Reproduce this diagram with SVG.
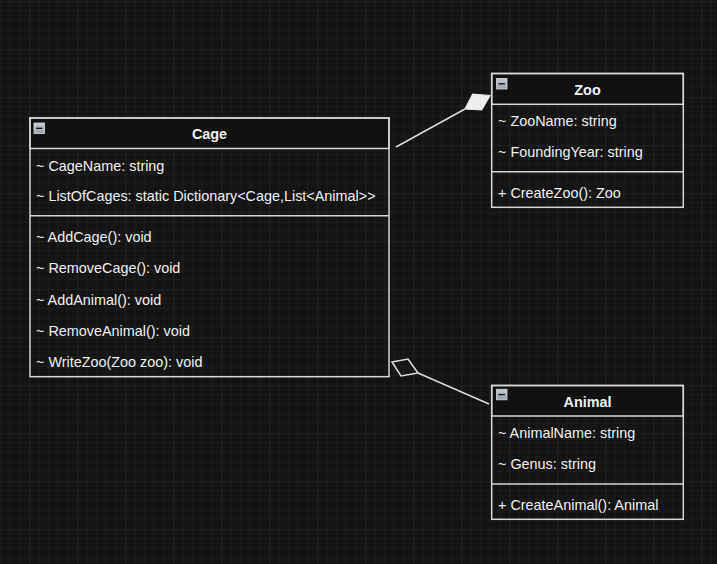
<svg xmlns="http://www.w3.org/2000/svg" width="717" height="564" viewBox="0 0 717 564">
<defs>
<pattern id="grid" width="48" height="48" patternUnits="userSpaceOnUse" x="29.3" y="1.3">
<path d="M9.6 0V48M19.2 0V48M28.8 0V48M38.4 0V48M0 9.6H48M0 19.2H48M0 28.8H48M0 38.4H48" stroke="#1d1d1d" stroke-width="1" fill="none"/>
<path d="M0 0V48M0 0H48" stroke="#2c2c2c" stroke-width="1.2" fill="none"/>
</pattern>
<linearGradient id="ic" x1="0" y1="0" x2="0" y2="1">
<stop offset="0" stop-color="#c4cad3"/>
<stop offset="1" stop-color="#9aa2ad"/>
</linearGradient>
<g id="icon">
<rect x="0" y="0" width="10.5" height="10.5" fill="url(#ic)" stroke="#d8dce2" stroke-width="0.8"/>
<rect x="2" y="4.6" width="6.5" height="1.4" fill="#1a1a1a"/>
</g>
</defs>
<style>
.box{fill:none;stroke:#d6d6d6;stroke-width:1.5}
.hdr{fill:#111111;stroke:#d6d6d6;stroke-width:1.5}
.div{stroke:#d6d6d6;stroke-width:1.5}
.t{font-family:"Liberation Sans",Arial,sans-serif;font-size:14.4px;fill:#f0f0f0}
.ttl{font-family:"Liberation Sans",Arial,sans-serif;font-size:14.4px;font-weight:bold;fill:#f0f0f0;text-anchor:middle}
.con{stroke:#dcdcdc;stroke-width:1.5;fill:none}
</style>
<rect width="717" height="564" fill="#141414"/>
<rect width="717" height="564" fill="url(#grid)"/>

<g id="connectors">
<line class="con" x1="396" y1="147" x2="465" y2="109"/>
<polygon points="465,109 472.7,94.2 490,95.5 481.7,110" fill="#eeeeee" stroke="#e6e6e6" stroke-width="1.2"/>
<line class="con" x1="418" y1="373" x2="489" y2="404"/>
<polygon points="392,362 408,359 418,373 401,376" class="con"/>
</g>

<g id="cage">
<rect class="hdr" x="30" y="118" width="359" height="30.5"/>
<rect class="box" x="30" y="118" width="359" height="258.7"/>
<line class="div" x1="30" y1="215.7" x2="389" y2="215.7"/>
<use href="#icon" x="34" y="123"/>
<text class="ttl" x="209.5" y="139.3">Cage</text>
<text class="t" x="36" y="170.5">~ CageName: string</text>
<text class="t" x="36" y="201.2">~ ListOfCages: static Dictionary&lt;Cage,List&lt;Animal&gt;&gt;</text>
<text class="t" x="36" y="242">~ AddCage(): void</text>
<text class="t" x="36" y="273">~ RemoveCage(): void</text>
<text class="t" x="36" y="304.5">~ AddAnimal(): void</text>
<text class="t" x="36" y="335.5">~ RemoveAnimal(): void</text>
<text class="t" x="36" y="366.5">~ WriteZoo(Zoo zoo): void</text>
</g>

<g id="zoo">
<rect class="hdr" x="491.7" y="73.5" width="191.6" height="30.8"/>
<rect class="box" x="491.7" y="73.5" width="191.6" height="133.8"/>
<line class="div" x1="491.7" y1="171.7" x2="683.3" y2="171.7"/>
<use href="#icon" x="496.5" y="78.5"/>
<text class="ttl" x="587.5" y="95">Zoo</text>
<text class="t" x="498" y="125.7">~ ZooName: string</text>
<text class="t" x="498" y="156.5">~ FoundingYear: string</text>
<text class="t" x="498" y="197.7">+ CreateZoo(): Zoo</text>
</g>

<g id="animal">
<rect class="hdr" x="491.7" y="385.5" width="191.6" height="30.5"/>
<rect class="box" x="491.7" y="385.5" width="191.6" height="133.8"/>
<line class="div" x1="491.7" y1="484" x2="683.3" y2="484"/>
<use href="#icon" x="496.5" y="389.3"/>
<text class="ttl" x="587.5" y="406.7">Animal</text>
<text class="t" x="498" y="437.5">~ AnimalName: string</text>
<text class="t" x="498" y="468.7">~ Genus: string</text>
<text class="t" x="498" y="510">+ CreateAnimal(): Animal</text>
</g>
</svg>
